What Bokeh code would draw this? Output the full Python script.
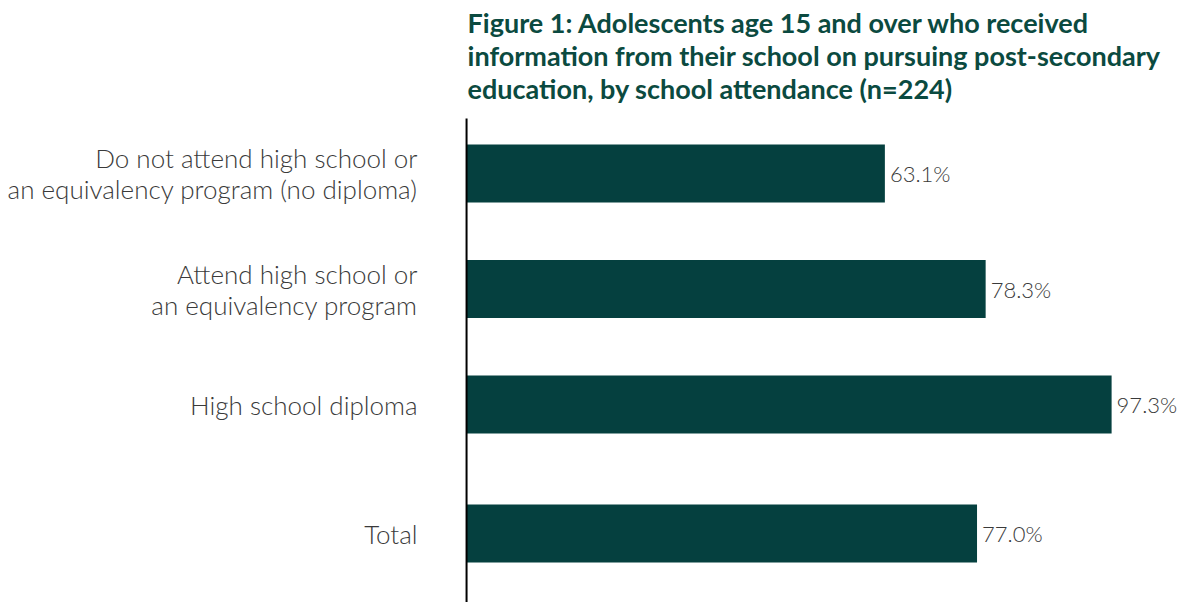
from bokeh.plotting import figure
from bokeh.models import ColumnDataSource, Range1d
from bokeh.core.properties import value
from bokeh.embed import file_html
from bokeh.resources import INLINE

# ---- data ----
categories = [
    "Do not attend high school or\nan equivalency program (no diploma)",
    "Attend high school or\nan equivalency program",
    "High school diploma",
    "Total",
]
percentages = [63.1, 78.3, 97.3, 77.0]
value_labels = ["63.1%", "78.3%", "97.3%", "77.0%"]
title_text = ("Figure 1: Adolescents age 15 and over who received\n"
              "information from their school on pursuing post-secondary\n"
              "education, by school attendance (n=224)")

# row positions: index, with an extra gap before "Total"
total_gap = 0.117
ypos = [i + (total_gap if c == "Total" else 0) for i, c in enumerate(categories)]

BAR = "#05403f"
TXT = "#3a3a3a"
TITLE = "#0b4a40"
FONT = "Lato"
LIGHT = "Lato Light, Lato"

# layout of the frame (whole canvas); range extents in row units
Y_TOP, Y_AXIS_TOP, Y_BOTTOM = -1.498, -0.476, 3.714

src = ColumnDataSource(dict(cat=categories, pct=percentages, lab=value_labels,
                            y=ypos, zero=[0] * len(categories)))

p = figure(width=1190, height=602, output_backend="svg", toolbar_location=None,
           x_range=Range1d(-70.3, 109.2), y_range=Range1d(Y_BOTTOM, Y_TOP),
           min_border=0)
p.xaxis.visible = False
p.yaxis.visible = False
p.grid.visible = False
p.outline_line_color = None

p.hbar(y="y", left="zero", right="pct", height=0.502, source=src,
       fill_color=BAR, line_color=None)

# vertical axis line
p.segment(x0=0, x1=0, y0=Y_AXIS_TOP, y1=Y_BOTTOM, line_color="#000000", line_width=2)

p.text(x="zero", y="y", text="cat", source=src, x_offset=-49,
       text_align="right", text_baseline="middle", text_font=value(LIGHT),
       text_font_size="26px", text_color=TXT, text_line_height=0.97)

p.text(x="pct", y="y", text="lab", source=src, x_offset=5,
       text_align="left", text_baseline="middle", text_font=value(LIGHT),
       text_font_size="22px", text_color=TXT)

# title block
p.text(x=[0], y=[Y_TOP], text=[title_text], x_offset=1, y_offset=5,
       text_align="left", text_baseline="top", text_font=value(FONT),
       text_font_style="bold", text_font_size="27px", text_color=TITLE,
       text_line_height=1.0)

open("out.html", "w").write(file_html(p, INLINE))
